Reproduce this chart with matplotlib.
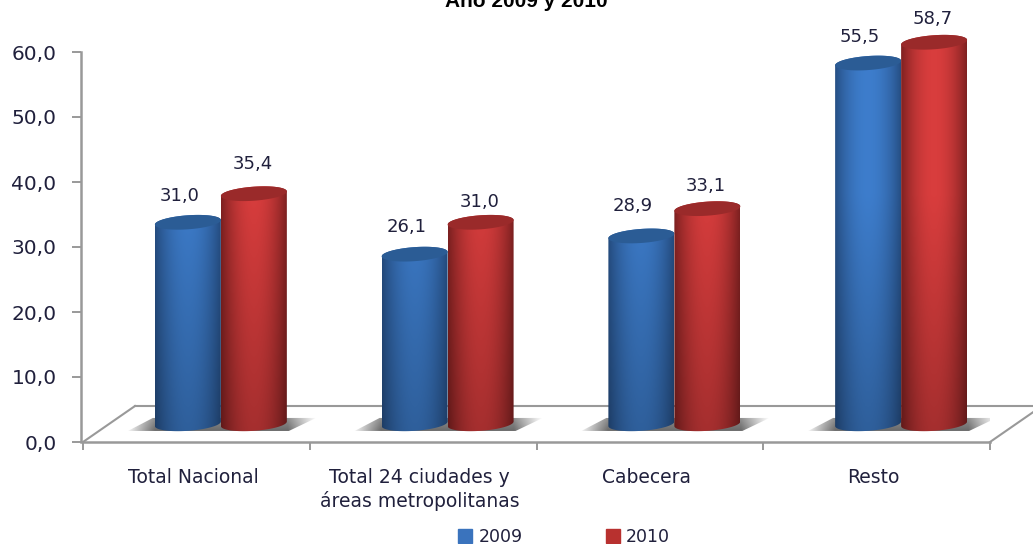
import numpy as np
import matplotlib
matplotlib.use('Agg')
import matplotlib.pyplot as plt
from matplotlib.patches import Polygon, Patch

categories = ['Total Nacional', 'Total 24 ciudades y\náreas metropolitanas', 'Cabecera', 'Resto']
values_2009 = [31.0, 26.1, 28.9, 55.5]
values_2010 = [35.4, 31.0, 33.1, 58.7]
y_ticks = [0, 10, 20, 30, 40, 50, 60]

W, H = 1033, 544
TEXT = '#20203c'
GREY = '#999999'

# look of the fake 3d
bar_w = 0.291
shift = 0.108
depth = 2.8      # how far the bars stand back on the floor
cap_h = 1.08     # half height of the ellipses
tilt = 0.35
# labels sit at uneven distances above the caps in the source
label_up_2009 = [19, 19.5, 21.5, 19]
label_up_2010 = [21.5, 14.5, 16, 16.5]

plt.rcParams['font.family'] = ['DejaVu Sans']

fig = plt.figure(figsize=(W / 100, H / 100), dpi=100)
ax = fig.add_axes([83 / W, 1 - 442 / H, (990 - 83) / W, (442 - 52) / H])
ax.spines['left'].set_position(('outward', 1.5))  # resets the ticks, so do it first


def arc(xc, y, t):
    return xc + bar_w / 2 * np.cos(t), y + cap_h * np.sin(t) + tilt * np.cos(t)


def shadow(xc):
    # soft shadow on the floor, left and right of a pair of bars
    grad = np.zeros((40, 200, 4))
    fade = np.abs(np.linspace(-1, 1, 200))[None, :]
    up = np.linspace(0.7, 1, 40)[:, None]
    grad[:, :, :3] = 0.33
    grad[:, :, 3] = np.clip((1 - fade) * 3.0, 0, 0.9) * up
    im = ax.imshow(grad, extent=[xc - 0.42, xc + 0.42, depth - 1.2, depth + 1.0],
                   aspect='auto', zorder=2)
    poly = Polygon([(xc - 0.41, depth - 1.1), (xc - 0.30, depth + 0.9),
                    (xc + 0.42, depth + 0.9), (xc + 0.30, depth - 1.1)],
                   transform=ax.transData, fc='none', ec='none')
    ax.add_patch(poly)
    im.set_clip_path(poly)


def cylinder(xc, value, edge, mid, cap, z):
    top = value + depth
    t = np.linspace(0, np.pi, 60)
    xt, yt = arc(xc, top, t)
    xb, yb = arc(xc, depth, np.pi + t)
    body = Polygon(np.r_[np.c_[xt, yt], np.c_[xb, yb]], transform=ax.transData,
                   fc='none', ec='none', zorder=z, clip_on=False)
    ax.add_patch(body)

    # horizontal shading, a bit darker towards the floor
    s = np.linspace(-1, 1, 120)
    mix = np.abs(s)[None, :, None] ** 2.0
    img = (1 - mix) * np.array(mid)[None, None, :] + mix * np.array(edge)[None, None, :]
    # darkening is kept on the same absolute scale for every bar
    v = np.linspace(1, 0, 100)[:, None, None]
    low = 0.76 + 0.24 * np.clip(v * value / 35, 0, 1)
    img = img * low
    im = ax.imshow(np.clip(img, 0, 1),
                   extent=[xc - bar_w / 2, xc + bar_w / 2, depth - cap_h - tilt, top + tilt + cap_h],
                   aspect='auto', zorder=z, clip_on=True)
    im.set_clip_box(fig.bbox)
    im.set_clip_path(body)

    t2 = np.linspace(0, 2 * np.pi, 120)
    xc2, yc2 = arc(xc, top, t2)
    ax.add_patch(Polygon(np.c_[xc2, yc2], fc=cap, ec='none', zorder=z + 0.1, clip_on=False))


blue_edge, blue_mid, blue_cap = (0.15, 0.31, 0.52), (0.24, 0.49, 0.80), '#2b5c95'
red_edge, red_mid, red_cap = (0.50, 0.13, 0.13), (0.85, 0.24, 0.24), '#9a2a2a'

# floor
x_left, x_right = -0.5, 3.5
floor_dx = 52 / 226.75
floor_top = 36 / 6.5
ax.plot([x_left, x_left + floor_dx], [0, floor_top], color=GREY, lw=1.5, clip_on=False, zorder=1)
ax.plot([x_left + floor_dx, x_right + floor_dx], [floor_top, floor_top], color=GREY, lw=1.5, clip_on=False, zorder=1)
ax.plot([x_right, x_right + floor_dx], [0, floor_top], color=GREY, lw=1.5, clip_on=False, zorder=1)

for i in range(len(categories)):
    xc = i + shift
    shadow(xc)
    cylinder(xc - bar_w / 2, values_2009[i], blue_edge, blue_mid, blue_cap, 3)
    cylinder(xc + bar_w / 2, values_2010[i], red_edge, red_mid, red_cap, 4)
    ax.annotate(f'{values_2009[i]:.1f}'.replace('.', ','), (xc - bar_w / 2, values_2009[i] + depth),
                xytext=(-6, label_up_2009[i]), textcoords='offset points', ha='center', va='center',
                fontsize=13, color=TEXT, annotation_clip=False, zorder=6)
    ax.annotate(f'{values_2010[i]:.1f}'.replace('.', ','), (xc + bar_w / 2, values_2010[i] + depth),
                xytext=(-1, label_up_2010[i]), textcoords='offset points', ha='center', va='center',
                fontsize=13, color=TEXT, annotation_clip=False, zorder=6)

ax.set_xlim(x_left, x_right)
ax.set_ylim(0, 60)
ax.patch.set_visible(False)

ax.set_yticks(y_ticks)
ax.set_yticklabels([f'{v:.1f}'.replace('.', ',') for v in y_ticks], fontsize=14.5, color=TEXT)
ax.set_xticks(np.arange(len(categories) + 1) - 0.5)
ax.set_xticklabels([])
ax.set_xticks(np.arange(len(categories)) - 0.015, categories, minor=True, fontsize=13.5, color=TEXT,
              linespacing=1.3, va='top')
ax.tick_params(axis='x', which='minor', length=0, pad=18.5)
ax.tick_params(axis='x', which='major', length=6, width=1.4, color=GREY)
ax.tick_params(axis='y', length=6.5, width=1.4, color=GREY, pad=11)

for side in ['top', 'right']:
    ax.spines[side].set_visible(False)
for side in ['left', 'bottom']:
    ax.spines[side].set_color(GREY)
    ax.spines[side].set_linewidth(1.8)

# the title is cut by the top edge in the source picture too
fig.text(526 / W, 1 - 7 / H, 'Año 2009 y 2010', family='Liberation Sans', weight='bold',
         fontsize=15, color='black', ha='center', va='baseline')

handles = [Patch(color='#3a73bd', label='2009'), Patch(color='#b8312f', label='2010')]
fig.legend(handles=handles, ncol=2, loc='center', bbox_to_anchor=(564 / W, 1 - 537 / H),
           frameon=False, fontsize=12.5, labelcolor=TEXT, handlelength=0.8, handleheight=0.8,
           handletextpad=0.35, columnspacing=4.8, borderpad=0, borderaxespad=0)

fig.savefig('out.png', dpi=100)
